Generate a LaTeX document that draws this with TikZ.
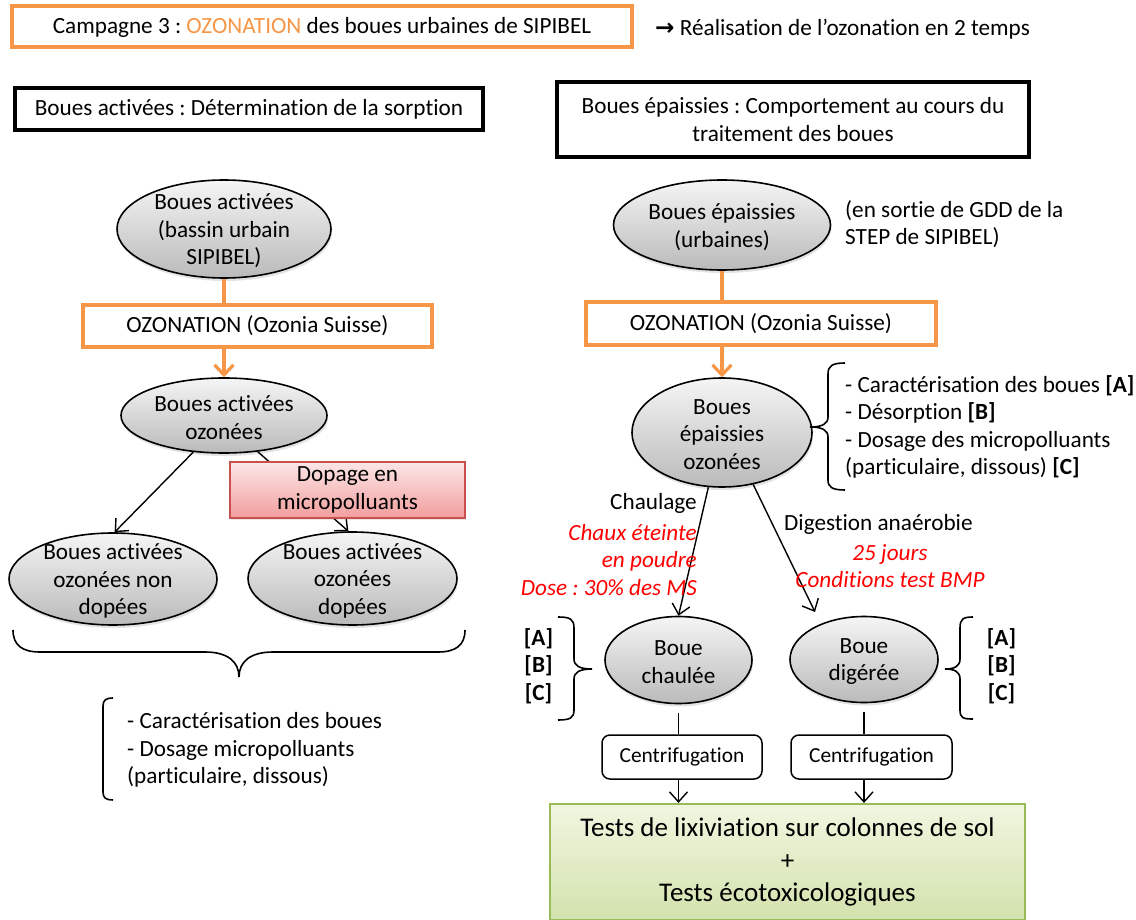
\documentclass[tikz,border=0pt]{standalone}
\usepackage{fontspec}
\setmainfont{Carlito}[Ligatures={NoCommon}]
\newfontfamily\symfont{DejaVu Sans}
\usetikzlibrary{arrows.meta,shapes.geometric,shadows}
\definecolor{ozorange}{HTML}{F79646}
\definecolor{redtxt}{HTML}{FF0000}
\definecolor{doptop}{HTML}{FCE6E6}
\definecolor{dopbot}{HTML}{F29E9E}
\definecolor{dopdraw}{HTML}{C9504F}
\definecolor{greentop}{HTML}{F1F6E0}
\definecolor{greenbot}{HTML}{D2E2AD}
\definecolor{greendraw}{HTML}{9BBB59}
\frenchspacing
\begin{document}
\begin{tikzpicture}[x=1pt,y=-1pt,
  every node/.style={font=\fontsize{23.2}{27.5}\selectfont, inner sep=0pt},
  txtc/.style={align=center, yshift=-2pt},
  boldtxt/.style={font=\fontsize{23.2}{27.5}\selectfont\bfseries, align=center},
  redit/.style={text=redtxt, font=\fontsize{23.2}{27.5}\selectfont\itshape},
  blob/.style={ellipse, draw=black, line width=1.6pt, top color=black!4, bottom color=black!27,
    drop shadow={shadow xshift=1pt, shadow yshift=-3pt, opacity=0.22}},
  titlebox/.style={rectangle, draw=ozorange, line width=3.4pt, fill=white},
  hdr/.style={rectangle, draw=black, line width=3.2pt, fill=white},
  ozbox/.style={rectangle, draw=ozorange, line width=3.4pt, fill=white},
  dopbox/.style={rectangle, draw=dopdraw, line width=1.6pt, top color=doptop, bottom color=dopbot,
    drop shadow={shadow xshift=1pt, shadow yshift=-2pt, opacity=0.2}},
  cbox/.style={rectangle, rounded corners=8pt, draw=black, line width=1.5pt, fill=white,
    font=\fontsize{21.4}{25}\selectfont},
  greenbox/.style={rectangle, draw=greendraw, line width=2.2pt, top color=greentop, bottom color=greenbot,
    font=\fontsize{27}{32.5}\selectfont, align=center},
  ln/.style={draw=black, line width=1.4pt},
  arr/.style={ln, -{Straight Barb[length=10pt,width=18pt]}},
  ozline/.style={draw=ozorange, line width=3.2pt},
  ozarrow/.style={ozline, -{Straight Barb[length=10pt,width=19pt]}},
  brc/.style={draw=black, line width=1.6pt},
]
\useasboundingbox (0,0) rectangle (1136,920);

% ---------- headings ----------
\node[titlebox, minimum width=620pt, minimum height=41pt, text depth=3pt] (title) at (322,26.5)
  {Campagne 3 : \textcolor{ozorange}{OZONATION} des boues urbaines de SIPIBEL};
\node[anchor=west] (realis) at (655,29) {{\symfont\bfseries →} Réalisation de l’ozonation en 2 temps};
\node[hdr, minimum width=468pt, minimum height=42pt] (hleft) at (249,109)
  {Boues activées : Détermination de la sorption};
\node[hdr, minimum width=472pt, minimum height=75pt, align=center] (hright) at (793,119.5)
  {Boues épaissies : Comportement au cours du\\traitement des boues};

% ---------- activated sludge branch ----------
\node[blob, minimum width=214pt, minimum height=98pt,
  label={[txtc]center:Boues activées\\(bassin urbain\\SIPIBEL)}] (ba) at (224,229) {};
\node[ozbox, minimum width=349pt, minimum height=42pt] (ozl) at (257.5,326) {OZONATION (Ozonia Suisse)};
\node[blob, minimum width=206pt, minimum height=75pt,
  label={[txtc]center:Boues activées\\ozonées}] (bao) at (224,415.5) {};
\node[blob, minimum width=208pt, minimum height=92pt,
  label={[txtc]center:Boues activées\\ozonées non\\dopées}] (band) at (113,579) {};
\node[blob, minimum width=209pt, minimum height=93pt,
  label={[txtc]center:Boues activées\\ozonées\\dopées}] (bad) at (352.5,578.5) {};

\draw[ozline] (ba.south) -- (ba.south |- ozl.north);
\draw[ozarrow] (bao.north |- ozl.south) -- (bao.north);
\draw[arr] (bao.-130) -- (band.88);
\draw[arr] (bao.-47) -- (bad.95);

\node[dopbox, minimum width=235pt, minimum height=56pt, align=center] (dop) at (347.5,490)
  {Dopage en\\micropolluants};

% brace under both doped / non-doped samples
\draw[brc] (13,630) .. controls (13,645) and (22,652) .. (40,652) -- (205,652)
  .. controls (228,652) and (239,662) .. (239,677)
  .. controls (239,662) and (250,652) .. (273,652) -- (438,652)
  .. controls (456,652) and (465,645) .. (465,630);
% bracket before the list of analyses
\draw[brc] (113,698) .. controls (106,698) and (103,700) .. (103,706) -- (103,792)
  .. controls (103,798) and (106,800) .. (113,800);
\node[anchor=west, align=left] (resl) at (127,750)
  {- Caractérisation des boues\\- Dosage micropolluants\\(particulaire, dissous)};

% ---------- thickened sludge branch ----------
\node[blob, minimum width=217pt, minimum height=90pt,
  label={[txtc]center:Boues épaissies\\(urbaines)}] (be) at (722,225) {};
\node[anchor=west, align=left] (gdd) at (845,224) {(en sortie de GDD de la\\STEP de SIPIBEL)};
\node[ozbox, minimum width=350pt, minimum height=43pt] (ozr) at (761,323.5) {OZONATION (Ozonia Suisse)};
\node[blob, minimum width=180pt, minimum height=109pt,
  label={[txtc]center:Boues\\épaissies\\ozonées}] (beo) at (722,432.5) {};
\draw[ozline] (be.south) -- (be.south |- ozr.north);
\draw[ozarrow] (beo.north |- ozr.south) -- (beo.north);

\draw[brc] (845,363) .. controls (832,363) and (828,366) .. (828,374) -- (828,417)
  .. controls (828,424) and (822,427) .. (810,427)
  .. controls (822,427) and (828,430) .. (828,437) -- (828,480)
  .. controls (828,487) and (832,490) .. (845,490);
\node[anchor=west, align=left] (analyses) at (845,427)
  {- Caractérisation des boues \textbf{[A]}\\- Désorption \textbf{[B]}\\- Dosage des micropolluants\\(particulaire, dissous) \textbf{[C]}};

\node[blob, minimum width=147pt, minimum height=87pt,
  label={[txtc]center:Boue\\chaulée}] (bc) at (678.5,660) {};
\node[blob, minimum width=148pt, minimum height=86pt,
  label={[txtc]center:Boue\\digérée}] (bd) at (864,659.5) {};
\coordinate (digin) at (815,612);
\draw[arr] (beo.-104) -- (bc.north);
\draw[arr] (beo.-59) -- (digin);

\node[anchor=east] (chl) at (697,503) {Chaulage};
\node[anchor=east, align=right, redit] (chx) at (697,560) {Chaux éteinte\\en poudre\\Dose : 30\% des MS};
\node[anchor=west] (dig) at (784,524) {Digestion anaérobie};
\node[align=center, redit] (dur) at (890,566) {25 jours\\Conditions test BMP};

\node[boldtxt] (abcl) at (538.5,666) {[A]\\{}[B]\\{}[C]};
\draw[brc] (558,617) .. controls (570,617) and (574,619) .. (574,628) -- (574,659)
  .. controls (574,666) and (580,669) .. (592,669)
  .. controls (580,669) and (574,672) .. (574,679) -- (574,710)
  .. controls (574,718) and (570,720) .. (558,720);
\node[boldtxt] (abcr) at (1001.5,666) {[A]\\{}[B]\\{}[C]};
\draw[brc] (973,617) .. controls (963,617) and (960,619) .. (960,628) -- (960,659)
  .. controls (960,666) and (955,669) .. (945,669)
  .. controls (955,669) and (960,672) .. (960,679) -- (960,710)
  .. controls (960,718) and (963,719) .. (973,719);

\node[cbox, minimum width=160pt, minimum height=44pt] (cf1) at (682,757) {Centrifugation};
\node[cbox, minimum width=161pt, minimum height=44pt] (cf2) at (871.5,757) {Centrifugation};
\node[greenbox, minimum width=475pt, minimum height=116pt] (tests) at (787.5,862)
  {Tests de lixiviation sur colonnes de sol\\+\\Tests écotoxicologiques};

\draw[ln, shorten <=9pt] (bc.south) -- (bc.south |- cf1.north);
\draw[ln, shorten <=9pt] (bd.south) -- (bd.south |- cf2.north);
\draw[arr] (bc.south |- cf1.south) -- (bc.south |- tests.north);
\draw[arr] (bd.south |- cf2.south) -- (bd.south |- tests.north);
\end{tikzpicture}
\end{document}
